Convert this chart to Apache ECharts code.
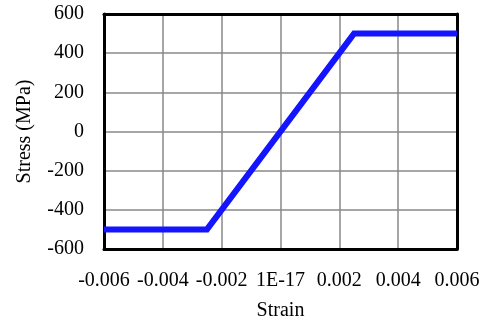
<!DOCTYPE html>
<html>
<head>
<meta charset="utf-8">
<script src="https://cdn.jsdelivr.net/npm/echarts@6/dist/echarts.min.js"></script>
<style>html,body{margin:0;padding:0;background:#fff;}#c{width:494px;height:322px;}</style>
</head>
<body>
<div id="c"></div>
<script>
const strain = [-0.006, -0.0025, 0.0025, 0.006];
const stress = [-500, -500, 500, 500];
const xTickLabels = ["-0.006", "-0.004", "-0.002", "1E-17", "0.002", "0.004", "0.006"];
const yTickLabels = ["-600", "-400", "-200", "0", "200", "400", "600"];

const chart = echarts.init(document.getElementById('c'));
const font = '"Liberation Serif", "Times New Roman", serif';
const frameAxis = { show: true, onZero: false, lineStyle: { color: '#000', width: 3 } };
chart.setOption({
  animation: false,
  grid: { left: 104, right: 37, top: 14, bottom: 73, outerBoundsMode: 'none', containLabel: false },
  xAxis: [{
    type: 'value', min: -0.006, max: 0.006, interval: 0.002,
    name: 'Strain', nameLocation: 'middle', nameGap: 52,
    nameTextStyle: { fontFamily: font, fontSize: 20, color: '#000' },
    axisLine: frameAxis,
    axisTick: { show: false },
    splitLine: { show: true, lineStyle: { color: '#888', width: 1.5 } },
    axisLabel: {
      fontFamily: font, fontSize: 20, color: '#000', margin: 22,
      formatter: function (v) { return xTickLabels[Math.round(v / 0.002) + 3]; }
    },
    z: 3
  }, {
    type: 'value', position: 'top', min: -0.006, max: 0.006, interval: 0.002,
    axisLine: frameAxis, axisTick: { show: false }, axisLabel: { show: false }, splitLine: { show: false }, z: 3
  }],
  yAxis: [{
    type: 'value', min: -600, max: 600, interval: 200,
    name: 'Stress (MPa)', nameLocation: 'middle', nameGap: 69,
    nameTextStyle: { fontFamily: font, fontSize: 20, color: '#000' },
    axisLine: frameAxis,
    axisTick: { show: false },
    splitLine: { show: true, lineStyle: { color: '#888', width: 1.5 } },
    axisLabel: {
      fontFamily: font, fontSize: 20, color: '#000', margin: 20,
      formatter: function (v) { return yTickLabels[Math.round(v / 200) + 3]; }
    },
    z: 3
  }, {
    type: 'value', position: 'right', min: -600, max: 600, interval: 200,
    axisLine: frameAxis, axisTick: { show: false }, axisLabel: { show: false }, splitLine: { show: false }, z: 3
  }],
  series: [{
    type: 'line',
    data: strain.map((x, i) => [x, stress[i]]),
    symbol: 'none',
    lineStyle: { color: '#1414ff', width: 6, join: 'miter' },
    z: 5
  }]
});
</script>
</body>
</html>
